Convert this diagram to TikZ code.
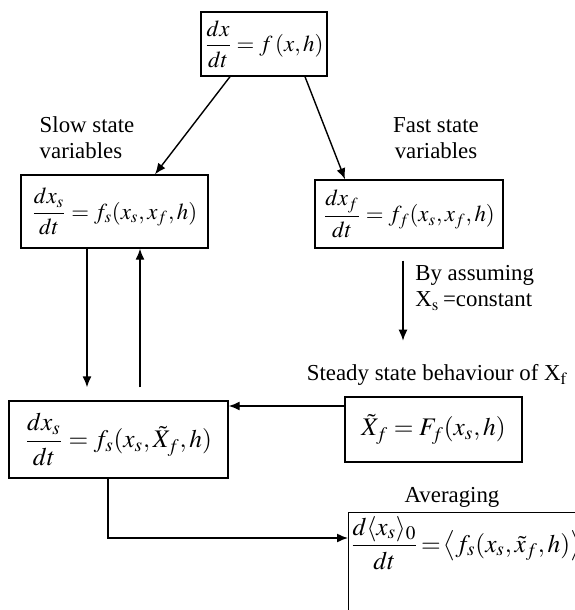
\documentclass[tikz,border=0pt]{standalone}
\usepackage{amsmath}
\usepackage{mathptmx}
\usepackage{fontspec}
\setmainfont{Liberation Serif}
\usetikzlibrary{positioning, arrows.meta}
\tikzset{
  eqbox/.style={draw, thick, fill=white, inner sep=2pt},
  lbl/.style={align=center, inner sep=0pt},
}
\begin{document}
\begin{tikzpicture}[>={Latex[length=2.2mm,width=1.8mm]}, font=\fontsize{13pt}{15pt}\selectfont]
    \useasboundingbox (0,0) rectangle (11.5,-12.2);

    % Full model
    \node[eqbox, minimum width=2.48cm, minimum height=1.28cm] (full) at (5.28,-0.88) {$\dfrac{dx}{dt} = f\,(x, h)$};

    % Slow and fast subsystems
    \node[eqbox, minimum width=3.74cm, minimum height=1.46cm] (slow) at (2.29,-4.23) {$\dfrac{dx_s}{dt}=f_s(x_s,x_f,h)$};
    \node[eqbox, minimum width=3.76cm, minimum height=1.36cm] (fast) at (8.18,-4.28) {$\dfrac{dx_f}{dt}=f_f(x_s,x_f,h)$};

    \node[lbl, align=left] (slowlbl) at (1.74,-2.76) {Slow state\\variables};
    \node[lbl] (fastlbl) at (8.72,-2.76) {Fast state\\variables};

    \draw[->, thick] ([xshift=-0.68cm]full.south) -- ([xshift=0.81cm]slow.north);
    \draw[->, thick] ([xshift=0.82cm]full.south) -- ([xshift=-1.28cm]fast.north);

    % Quasi-steady fast state
    \draw[->, thick] ([xshift=-0.12cm,yshift=-0.24cm]fast.south) -- ++(0,-1.6) coordinate (assumeend);
    \node[lbl, align=left, anchor=west] (assume) at (8.30,-5.76) {By assuming\\X$_{\mathrm{s}}$\,=constant};

    \node[lbl] (steadylbl) at (8.74,-7.50) {Steady state behaviour of X$_{\mathrm{f}}$};
    \node[eqbox, minimum width=3.54cm, minimum height=1.30cm, font=\Large] (steady) at (8.67,-8.59) {$\tilde{X}_f = F_f(x_s,h)$};

    % Reduced slow model
    \node[eqbox, minimum width=4.38cm, minimum height=1.54cm, font=\Large] (reduced) at (2.37,-8.79) {$\dfrac{dx_s}{dt}=f_s(x_s,\tilde{X}_f,h)$};

    \draw[->, thick, shorten >=0.26cm] ([xshift=-0.55cm]slow.south) -- ([xshift=-0.55cm]slow.south |- reduced.north);
    \draw[->, thick, shorten <=0.26cm] ([xshift=0.51cm]slow.south |- reduced.north) -- ([xshift=0.51cm]slow.south);
    \draw[->, thick] ([yshift=0.47cm]steady.west) -- ([yshift=0.47cm]steady.west -| reduced.east);

    % Averaged model
    \node[lbl] (avglbl) at (9.04,-9.94) {Averaging};
    \node[eqbox, anchor=north west, inner xsep=1pt, text width=6cm, align=left, text depth=1.4cm, font=\Large] (avg) at (6.96,-10.24) {$\dfrac{d\langle x_s\rangle_0}{dt}\!=\!\big\langle f_s(x_s,\tilde{x}_f,h)\big\rangle_0$};

    \draw[->, thick] ([xshift=-0.21cm]reduced.south) |- ([yshift=-0.52cm]avg.north west);
\end{tikzpicture}
\end{document}
